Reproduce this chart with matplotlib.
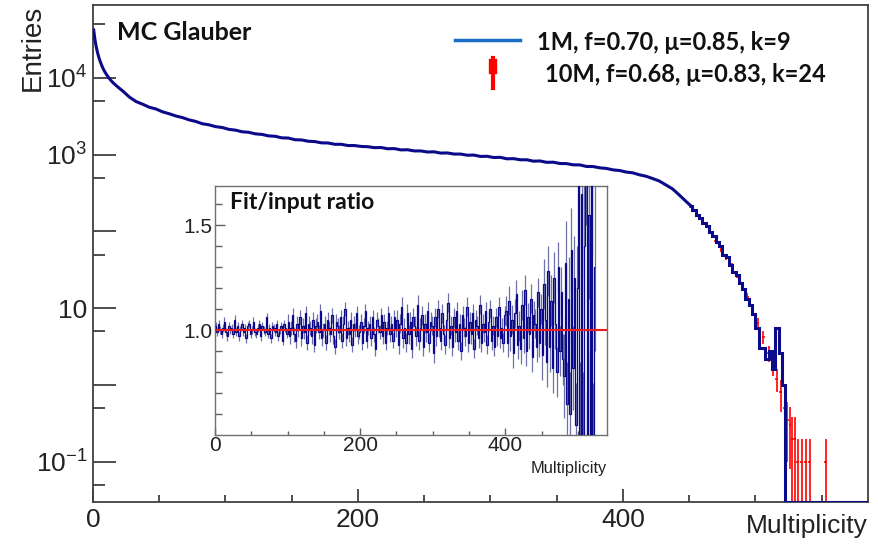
import numpy as np
import matplotlib
matplotlib.use("Agg")
import matplotlib.pyplot as plt
from matplotlib.ticker import FixedLocator, FixedFormatter
from matplotlib.lines import Line2D

# ---------------- data ----------------
# main histogram (1M), bins: 0-20 step 1, 20-450 step 5, 450-525 step 2.5, then empty to 585
hist_fine = [42000, 31000, 25000, 21000, 18200, 16200, 14600, 13300, 12300, 11500,
             10800, 10200, 9700, 9250, 8850, 8500, 8200, 7900, 7650, 7400]
hist_mid = [6700, 5600, 4900, 4520, 4130, 3920, 3600, 3400, 3180, 3030,
            2830, 2700, 2520, 2440, 2310, 2250, 2130, 2080, 1980, 1950,
            1860, 1830, 1750, 1730, 1650, 1640, 1560, 1550, 1490, 1475,
            1420, 1415, 1360, 1360, 1310, 1310, 1275, 1265, 1230, 1235,
            1190, 1195, 1150, 1155, 1115, 1115, 1080, 1085, 1045, 1050,
            1015, 1015, 980, 985, 945, 950, 915, 920, 880, 885,
            855, 855, 820, 825, 792, 795, 765, 762, 735, 733,
            700, 698, 672, 660, 632, 620, 592, 578, 545, 522,
            487, 452, 402, 357, 298, 247]
hist_tail = [215, 190, 165, 150, 128, 118, 98, 88, 72, 64,
             50, 46, 37, 30, 27, 21, 18, 13, 11, 8.5,
             5.5, 3.0, 3.0, 2.2, 2.8, 1.6, 5.5, 2.6, 1.0, 0.0]
hist_empty = [0.0]

# 10M histogram (red, error bars), visible in the tail
red_x = [470, 474, 478, 482, 486, 490, 494, 498, 502, 506, 510, 513, 516, 519,
         522, 524, 526, 528, 530, 532, 535, 538, 541, 553]
red_y = [75, 58, 46, 36, 27, 20, 14, 10, 6.5, 4.2, 2.6, 1.8, 1.2, 0.8,
         0.5, 0.35, 0.3, 0.2, 0.2, 0.1, 0.1, 0.1, 0.1, 0.1]
red_err = [5, 4, 3.5, 3, 2.5, 2, 1.6, 1.3, 1.0, 0.8, 0.6, 0.5, 0.4, 0.35,
           0.3, 0.25, 0.22, 0.18, 0.18, 0.1, 0.1, 0.1, 0.1, 0.1]

# inset: fit/input ratio, deviation from 1 in percent, bins of width 2 from 0
ratio_dev_pct = [
    # 0-100
    +2, -1, +3, 0, -2, +1, +4, -1, -3, +2, 0, +1, -2, +5, -1, +2, -3, 0, +3, -1,
    +1, -4, +2, +3, -2, 0, +4, -1, -2, +1, +3, -3, +2, 0, -1, +6, -2, +1, -4, +2,
    +1, -1, +3, -3, 0, +2, -5, +3, +1, -2,
    # 100-250
    +4, -3, +1, +7, -2, -5, +3, 0, +6, -4, +2, -1, +8, -6, +3, +1, -3, +5, -7, +2,
    +4, -1, +9, -4, 0, +3, -6, +5, +1, -2, +7, -3, -8, +4, +2, -1, +6, -5, +3, +10,
    -4, +1, -2, +5, -7, +3, 0, +8, -3, -1, +4, -6, +2, +9, -5, +1, +3, -4, +6, -2,
    -9, +5, +2, -1, +7, -3, +4, -6, +1, +8, -2, +3, -5, +6, 0,
    # 250-400
    +5, -7, +3, +11, -4, +1, -6, +8, -2, +4, -9, +6, +2, -3, +12, -5, +1, +7, -8, +3,
    -1, +9, -6, +4, +2, -11, +6, -3, +10, +1, -5, +8, -2, -7, +5, +13, -4, +2, -8, +6,
    -1, +9, -5, +3, -10, +7, +1, -3, +11, -6, +4, -2, +8, -9, +5, +2, -4, +12, -6, +3,
    -1, +9, -7, +4, +10, -5, +2, -8, +6, -3, +11, -4, +1, -6, +7,
    # 400-450
    +9, -6, +14, -3, +5, -11, +8, +17, -7, +2, -9, +12, -4, +19, -10, +6, -2, +15, -13, +7,
    +3, -8, +18, -6, +10,
    # 450-480
    -12, +22, +5, -15, +28, -8, +14, -18, +25, +3, -20, +30, -10, +18, -14,
    # 480-500
    -22, +32, -35, +15, -40, +38, -18, +25, -45, +20,
    # 500-524
    +80, -55, +65, -60, +40, +90, -70, +55, -50, +75, -65, +30,
]
ratio_err = ([0.02] * 50 + [0.035] * 75 + [0.045] * 75 + [0.07] * 25 +
             [0.12] * 15 + [0.2] * 10 + [0.4] * 12)
ratio_binw = 2
fit_line = 1.0

legend_labels = ["1M, f=0.70, \u03bc=0.85, k=9", "10M, f=0.68, \u03bc=0.83, k=24"]

# ---------------- figure ----------------
HELV = ["Liberation Sans", "DejaVu Sans"]
CAL = ["Lato", "DejaVu Sans"]
plt.rcParams["font.family"] = HELV
plt.rcParams["mathtext.default"] = "regular"

fig = plt.figure(figsize=(8.79, 5.52), dpi=100)
ax = fig.add_axes([93 / 879, 1 - 502 / 552, (868 - 93) / 879, (502 - 5) / 552])
ax.set_yscale("log")
ymin, ymax = 0.030, 88500
ax.set_xlim(0, 585)
ax.set_ylim(ymin, ymax)

n_smooth = len(hist_fine) + len(hist_mid)
edges = np.concatenate([
    np.arange(0, len(hist_fine) + 1) * 1.0,
    20 + 5.0 * np.arange(1, len(hist_mid) + 1),
    450 + 2.5 * np.arange(1, len(hist_tail) + 1),
    [585.0],
])
vals = np.array(hist_fine + hist_mid + hist_tail + hist_empty, dtype=float)
vals_plot = np.where(vals > 0, vals, ymin)
centers = 0.5 * (edges[:-1] + edges[1:])

navy = "#0a0a8a"
# red 10M errorbars (under blue)
ry = np.array(red_y)
re = np.array(red_err)
ax.errorbar(red_x, ry, yerr=[np.minimum(re, ry - 1e-6), re],
            xerr=1.0, fmt="none", ecolor="#ff0000", elinewidth=1.2, zorder=2)
# smooth part drawn as line through bin centres, steep tail as steps
ax.plot(np.concatenate([[edges[0]], centers[:n_smooth + 1]]),
        np.concatenate([[vals_plot[0]], vals_plot[:n_smooth + 1]]),
        color=navy, lw=2.2, zorder=3, solid_joinstyle="miter")
ax.stairs(vals_plot[n_smooth:], edges[n_smooth:], baseline=None, color=navy,
          lw=2.2, zorder=3)

# ticks
spine_c = "#404040"
for s in ax.spines.values():
    s.set_color(spine_c)
    s.set_linewidth(1.3)
ax.xaxis.set_major_locator(FixedLocator([0, 200, 400]))
ax.xaxis.set_minor_locator(FixedLocator([50, 100, 150, 250, 300, 350, 450, 500, 550]))
ymaj = [1e-1, 1, 10, 1e2, 1e3, 1e4]
ax.yaxis.set_major_locator(FixedLocator(ymaj))
ax.yaxis.set_major_formatter(FixedFormatter(
    ["$10^{-1}$", "", "10", "", "$10^{3}$", "$10^{4}$"]))
ax.yaxis.set_minor_locator(FixedLocator([5e-2, 5e-1, 5, 5e1, 5e2, 5e3, 5e4]))
ax.yaxis.set_minor_formatter(FixedFormatter([""] * 7))
ax.tick_params(axis="x", which="major", direction="in", length=9.5, width=1.3,
               color=spine_c, labelsize=19, pad=4, labelcolor="#222222")
ax.tick_params(axis="x", which="minor", direction="in", length=5, width=1.3, color=spine_c)
ax.tick_params(axis="y", which="major", direction="in", length=16.5, width=1.3,
               color=spine_c, labelsize=19, pad=4, labelcolor="#222222")
ax.tick_params(axis="y", which="minor", direction="in", length=8.5, width=1.3, color=spine_c)

ax.text(1.0, (502 - 533) / 497, "Multiplicity", transform=ax.transAxes,
        ha="right", va="baseline", fontsize=19, color="#222222")
fig.text(33 / 879, 1 - 5 / 552, "Entries", rotation=90, ha="center", va="top",
         fontsize=20, color="#222222")

# title + legend
ax.text((117 - 93) / 775, (502 - 33) / 497, "MC Glauber", transform=ax.transAxes,
        ha="left", va="center", fontsize=18, fontweight="bold", family=CAL, color="#111111")
ax.add_line(Line2D([(455 - 93) / 775, (520 - 93) / 775], [(502 - 40) / 497] * 2,
                   transform=ax.transAxes, color="#1a6dc4", lw=2.5))
ax.add_line(Line2D([(493 - 93) / 775] * 2, [(502 - 58) / 497, (502 - 88) / 497],
                   transform=ax.transAxes, color="#ff0000", lw=3))
ax.add_line(Line2D([(493 - 93) / 775] * 2, [(502 - 70) / 497, (502 - 63) / 497],
                   transform=ax.transAxes, color="#ff0000", lw=6))
ax.text((537 - 93) / 775, (502 - 42) / 497, legend_labels[0], transform=ax.transAxes,
        ha="left", va="center", fontsize=17, fontweight="bold", family=CAL, color="#111111")
ax.text((545 - 93) / 775, (502 - 75) / 497, legend_labels[1], transform=ax.transAxes,
        ha="left", va="center", fontsize=17, fontweight="bold", family=CAL, color="#111111")

# ---------------- inset ----------------
axin = fig.add_axes([215 / 879, 1 - 435 / 552, (607 - 215) / 879, (435 - 186) / 552])
axin.set_xlim(0, 540)
axin.set_ylim(0.5, 1.686)
ratio = 1.0 + np.array(ratio_dev_pct) / 100.0
redges = ratio_binw * np.arange(len(ratio) + 1)
rcent = 0.5 * (redges[:-1] + redges[1:])
axin.errorbar(rcent, ratio, yerr=ratio_err, fmt="none", ecolor="#7070a8",
              elinewidth=0.9, zorder=2)
axin.stairs(ratio, redges, baseline=None, color=navy, lw=0.9, zorder=3)
axin.axhline(fit_line, color="#e8201c", lw=1.5, zorder=4)
for s in axin.spines.values():
    s.set_color("#707070")
    s.set_linewidth(1.0)
axin.xaxis.set_major_locator(FixedLocator([0, 200, 400]))
axin.xaxis.set_minor_locator(FixedLocator([50, 100, 150, 250, 300, 350, 450, 500]))
axin.yaxis.set_major_locator(FixedLocator([1.0, 1.5]))
axin.yaxis.set_major_formatter(FixedFormatter(["1.0", "1.5"]))
axin.yaxis.set_minor_locator(FixedLocator([0.6, 0.7, 0.8, 0.9, 1.1, 1.2, 1.3, 1.4, 1.6]))
axin.tick_params(axis="x", which="major", direction="in", length=5, width=1, color="#606060",
                 labelsize=15, pad=1, labelcolor="#222222")
axin.tick_params(axis="x", which="minor", direction="in", length=3, width=1, color="#606060")
axin.tick_params(axis="y", which="major", direction="in", length=7, width=1, color="#606060",
                 labelsize=15, pad=2, labelcolor="#222222")
axin.tick_params(axis="y", which="minor", direction="in", length=5, width=1, color="#606060")
axin.text(1.0, (435 - 473) / 249, "Multiplicity", transform=axin.transAxes,
          ha="right", va="baseline", fontsize=11.8, color="#222222")
axin.text((230 - 215) / 392, (435 - 203) / 249, "Fit/input ratio", transform=axin.transAxes,
          ha="left", va="center", fontsize=16.5, fontweight="bold", family=CAL, color="#111111")

fig.savefig("out.png", dpi=100)
